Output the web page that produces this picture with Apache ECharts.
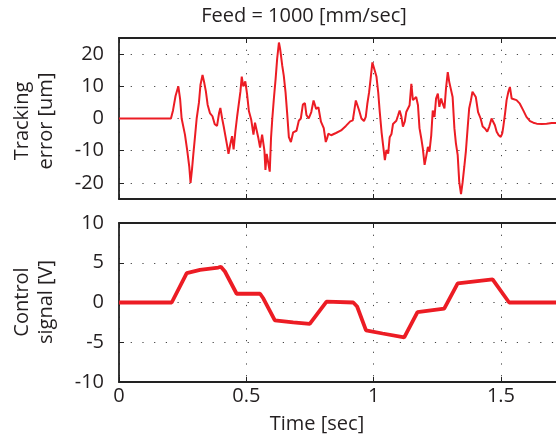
<!DOCTYPE html>
<html><head><meta charset="utf-8">
<script src="https://cdn.jsdelivr.net/npm/echarts@6/dist/echarts.min.js"></script>
<style>html,body{margin:0;padding:0;background:#fff}#c{width:556px;height:439px}</style>
</head><body><div id="c"></div>
<script>
// Top: tracking error [um] vs time [sec]
const tTop = [0,0.204,0.212,0.222,0.233,0.240,0.246,0.259,0.268,0.276,0.281,0.287,0.292,0.298,0.305,0.314,0.320,0.328,0.335,0.341,0.348,0.357,0.367,0.376,0.385,0.393,0.398,0.405,0.411,0.418,0.425,0.430,0.437,0.444,0.450,0.457,0.464,0.470,0.477,0.482,0.488,0.496,0.503,0.510,0.519,0.528,0.534,0.541,0.547,0.554,0.562,0.571,0.575,0.580,0.586,0.592,0.597,0.602,0.608,0.615,0.621,0.628,0.633,0.641,0.647,0.654,0.660,0.667,0.675,0.684,0.697,0.706,0.714,0.722,0.730,0.736,0.745,0.755,0.764,0.774,0.783,0.793,0.804,0.812,0.817,0.822,0.833,0.852,0.872,0.891,0.908,0.918,0.923,0.930,0.936,0.943,0.952,0.962,0.969,0.975,0.982,0.988,0.995,1.005,1.011,1.018,1.024,1.031,1.037,1.044,1.050,1.057,1.063,1.070,1.076,1.083,1.089,1.096,1.102,1.109,1.115,1.122,1.128,1.135,1.141,1.148,1.154,1.161,1.167,1.174,1.180,1.187,1.193,1.200,1.206,1.213,1.219,1.226,1.232,1.239,1.245,1.252,1.258,1.265,1.271,1.278,1.284,1.291,1.297,1.304,1.310,1.317,1.323,1.330,1.336,1.343,1.349,1.356,1.362,1.369,1.375,1.382,1.388,1.394,1.401,1.410,1.420,1.428,1.437,1.446,1.454,1.463,1.469,1.476,1.483,1.491,1.499,1.505,1.509,1.516,1.522,1.529,1.535,1.542,1.548,1.561,1.574,1.587,1.600,1.614,1.627,1.640,1.660,1.679,1.699,1.716,1.75];
const errTop = [0,0,2.5,7,10,6,0,-5,-10,-15,-20,-15.5,-11,-6,0,5,10.5,13.5,11,8.5,4.3,1.7,0.7,-1.8,-2.3,1.7,3.3,0,-2.4,-3,-8.6,-11,-8,-5.5,-9.6,-4,0.7,1.2,8.5,13,10,11.5,7.5,2.3,-0.3,-5,-1.3,-0.8,-6,-9,-5,-10,-16,-11,-10.5,-16.5,-6,0,6,12.3,18.5,23.6,21.5,16.4,13.3,8.1,2,-5.8,-7.3,-4.3,-3.8,-0.7,0,4.3,4.8,1.1,0,2,5.6,3,3.5,-1,-3,-7.3,-6.2,-4.7,-5.2,-4.5,-3.7,-2.3,-0.9,-0.6,2,5.6,5,2.5,0,-0.8,0.5,4.5,8.1,12.3,17.4,14.7,13,8,2,-4.2,-8.3,-12.9,-9.8,-10.9,-5.8,-4.8,-1.7,-2.2,-0.7,1,2.5,0.5,-2.5,-1,2,1.5,4.1,10.8,5.7,5.1,6.7,4.1,-3,-6.2,-9.3,-14.4,-11.9,-8.8,-10.3,-5.3,2.5,0.5,6.2,7.7,3.6,6.2,4.6,3.1,9.3,14.4,11.3,11.9,6.7,-3,-7.7,-11.4,-19.6,-23.5,-20,-14.9,-10.3,-3,3.1,5.7,8.3,8.8,6.7,2,0,-2.5,-3.1,-4.1,-2.5,0,0.5,-2.1,-4.1,-5.2,-5.7,-4.6,-2.6,1.6,5.7,8.3,9.8,6.2,6.2,5.7,4.6,2.6,0.5,-0.8,-1.3,-1.6,-1.7,-1.6,-1.4,-1.4,-1.4];
// Bottom: control signal [V]
const tBot = [0,0.207,0.266,0.318,0.390,0.400,0.416,0.462,0.554,0.567,0.612,0.684,0.749,0.815,0.920,0.935,0.970,1.035,1.120,1.172,1.277,1.330,1.467,1.532,1.75];
const uBot = [0,0,3.7,4.1,4.4,4.5,3.9,1.1,1.1,0.5,-2.25,-2.5,-2.7,0.1,0,-0.5,-3.5,-3.9,-4.4,-1.2,-0.76,2.4,2.9,0,0];
const topTicks = [-20,-10,0,10,20];
const botTicks = [-10,-5,0,5,10];
const titleText = 'Feed = 1000 [mm/sec]';
const xName = 'Time [sec]';

const FONT = 'Open Sans';
const FS = 20;
const TXT = '#231f20';
const RED = '#ec1c24';
const gridLine = {show:true, lineStyle:{color:'#444', width:1, type:[1.2,10.5]}};
const axLine = {show:true, onZero:false, lineStyle:{color:'#222', width:1.8}};
const tick = {show:true, inside:true, length:5, lineStyle:{color:'#222', width:1}};

function xAx(grid, pos, labels){
  return {type:'value', gridIndex:grid, position:pos, min:0, max:1.716, interval:0.5,
    axisLine:axLine, axisTick:tick, splitLine: pos==='bottom'?gridLine:{show:false},
    axisLabel:{show:labels, color:TXT, fontFamily:FONT, fontSize:FS, margin:4,
      showMaxLabel:false, formatter:v=> v>1.6?'':String(v)}};
}
function yAx(grid, min, max, ticks){
  return {type:'value', gridIndex:grid, min:min, max:max,
    axisLine:axLine,
    axisTick:Object.assign({customValues:ticks}, tick),
    splitLine:gridLine,
    axisLabel:{customValues:ticks, color:TXT, fontFamily:FONT, fontSize:FS, margin:15}};
}
const chart = echarts.init(document.getElementById('c'), null, {renderer:'canvas'});
chart.setOption({
  animation:false,
  backgroundColor:'#fff',
  grid:[{left:119, top:38, right:0, height:161},{left:119, top:223, right:0, height:159}],
  xAxis:[xAx(0,'bottom',false), xAx(0,'top',false), xAx(1,'bottom',true), xAx(1,'top',false)],
  yAxis:[yAx(0,-25,25,topTicks), yAx(1,-10,10,botTicks)],
  series:[
    {type:'line', xAxisIndex:0, yAxisIndex:0, showSymbol:false, symbol:'none', clip:true,
     lineStyle:{color:RED, width:2}, data:tTop.map((t,i)=>[t,errTop[i]])},
    {type:'line', xAxisIndex:2, yAxisIndex:1, showSymbol:false, symbol:'none', clip:true,
     lineStyle:{color:RED, width:3.8}, data:tBot.map((t,i)=>[t,uBot[i]])}
  ],
  graphic:[
    {type:'text', x:304, y:16, style:{text:titleText, fontFamily:FONT, fontSize:FS, fill:TXT, align:'center', verticalAlign:'middle'}},
    {type:'text', x:317, y:424, style:{text:xName, fontFamily:FONT, fontSize:FS, fill:TXT, align:'center', verticalAlign:'middle'}},
    {type:'text', x:22, y:121, rotation:Math.PI/2, style:{text:'Tracking', fontFamily:FONT, fontSize:FS, fill:TXT, align:'center', verticalAlign:'middle'}},
    {type:'text', x:46, y:121, rotation:Math.PI/2, style:{text:'error [um]', fontFamily:FONT, fontSize:FS, fill:TXT, align:'center', verticalAlign:'middle'}},
    {type:'text', x:22, y:302, rotation:Math.PI/2, style:{text:'Control', fontFamily:FONT, fontSize:FS, fill:TXT, align:'center', verticalAlign:'middle'}},
    {type:'text', x:46, y:302, rotation:Math.PI/2, style:{text:'signal [V]', fontFamily:FONT, fontSize:FS, fill:TXT, align:'center', verticalAlign:'middle'}}
  ]
});
</script></body></html>
